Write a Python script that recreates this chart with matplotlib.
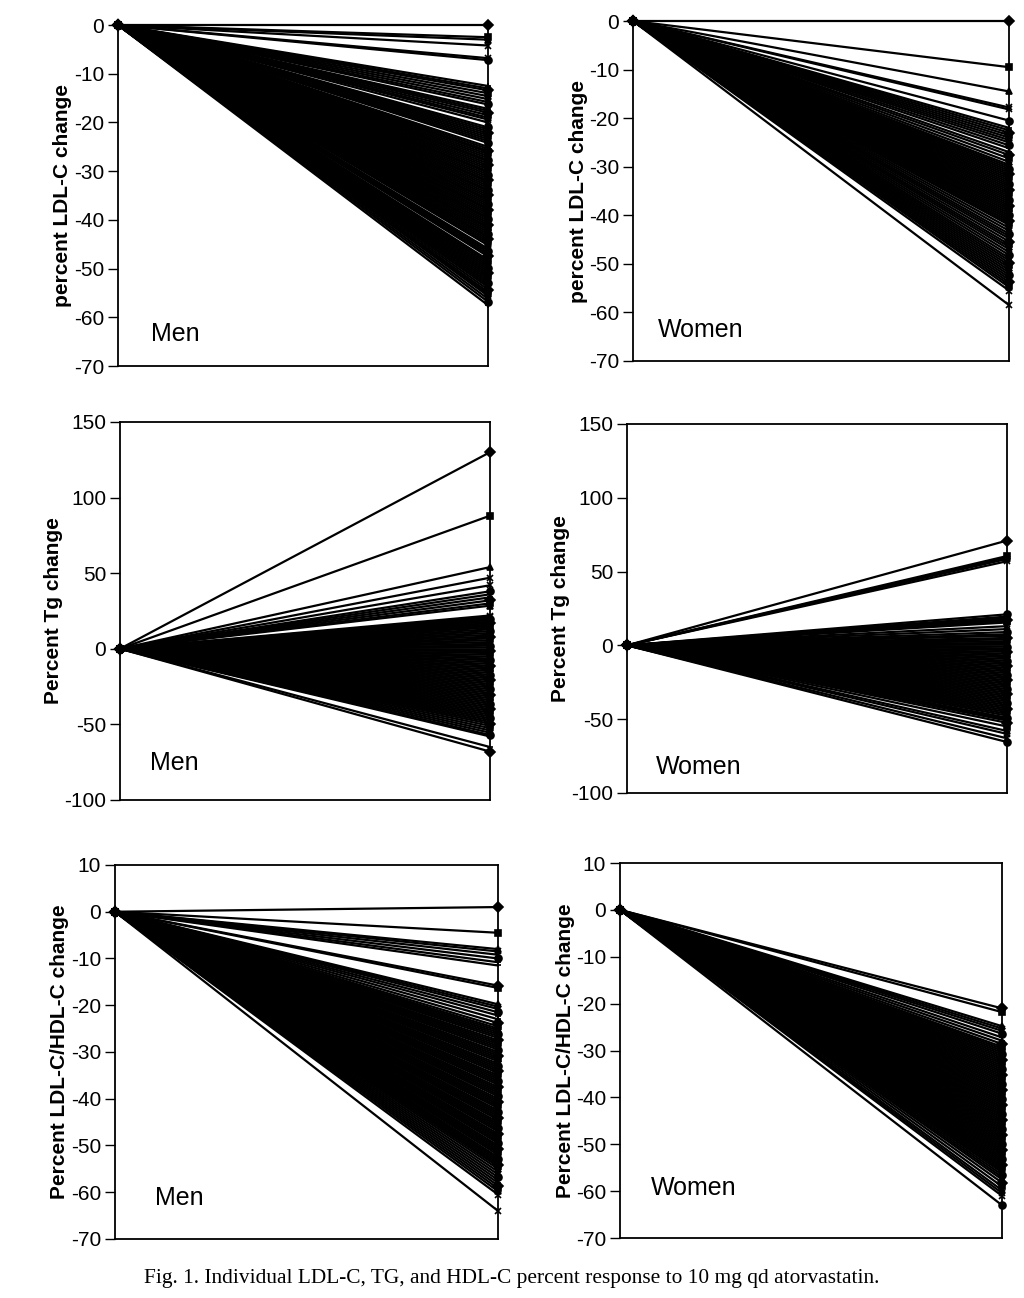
import matplotlib
matplotlib.use("Agg")
import matplotlib.pyplot as plt

plt.rcParams['font.family'] = ['Liberation Sans', 'DejaVu Sans']
plt.rcParams['axes.unicode_minus'] = False

# two visits: baseline and on treatment
visits = [0, 1]

# end-of-treatment percent change per patient (baseline is 0 for everyone)
men_ldl = [0, -2.5, -3.0, -4.2, -6.8, -7.2,
           -12.5, -13.0, -13.4, -14.0, -14.6, -15.2, -15.8, -16.3,
           -17.2, -17.6, -18.0, -18.5, -19.0, -19.4, -20.0,
           -21.0, -21.4, -21.8, -22.2, -22.6, -23.0, -23.4, -23.8, -24.2,
           -25.0, -25.4, -25.8, -26.1, -26.5, -26.9, -27.3, -27.7, -28.0, -28.4,
           -28.8, -29.2, -29.6, -30.0, -30.3, -30.7, -31.1, -31.5, -31.9, -32.2,
           -32.6, -33.0, -33.4, -33.8, -34.1, -34.5, -34.9, -35.3, -35.7, -36.0,
           -36.4, -36.8, -37.2, -37.6, -37.9, -38.3, -38.7, -39.1, -39.5, -39.8,
           -40.2, -40.6, -41.0, -41.4, -41.7, -42.1, -42.5, -42.9, -43.3, -43.6,
           -44.0, -44.4, -44.8, -45.2, -45.9, -46.3, -46.7, -47.1, -47.5, -48.2,
           -48.6, -49.0, -49.4, -49.8, -50.2, -50.6, -51.0, -51.4, -51.8, -52.2,
           -52.6, -53.0, -53.4, -53.8, -54.3, -54.8, -55.2, -55.6, -56.2, -56.8, -57.5]

women_ldl = [0, -9.5, -14.5, -17.8, -18.2, -20.5,
             -22.0, -22.5, -23.0, -23.5, -24.0, -24.5, -25.0, -25.6, -26.2,
             -27.0, -27.6, -28.3, -29.0, -29.6,
             -30.0, -30.4, -30.8, -31.2, -31.6, -32.0, -32.4, -32.8, -33.2, -33.6,
             -34.0, -34.4, -34.8, -35.2, -35.6, -36.0, -36.4, -36.8, -37.2, -37.6,
             -38.0, -38.4, -38.8, -39.2, -39.6, -40.0, -40.4, -40.8, -41.2, -41.6,
             -42.0, -42.6, -43.2, -43.8, -44.3, -44.8, -45.4, -46.0, -46.5, -47.0,
             -47.6, -48.2, -48.8, -49.3, -49.8, -50.3, -50.8, -51.3, -51.8, -52.3,
             -52.8, -53.3, -53.8, -54.3, -54.8, -55.5, -58.5]

men_tg = [130, 88, 54, 47, 42, 38, 36, 34, 32, 30, 28.5,
          22, 21, 20, 19, 18, 17, 16, 15, 14, 12.8, 11.6, 10.4, 9.2, 8, 6.8,
          5.6, 4.4, 3.2, 2, 0.8, -0.4, -1.6, -2.8, -4, -5.2, -6.4, -7.6, -8.8,
          -10, -11.2, -12.4, -13.6, -14.8, -16, -17.2, -18.4, -19.6, -20.8, -22,
          -23.2, -24.4, -25.6, -26.8, -28, -29.2, -30.4, -31.6, -32.8, -34,
          -35.2, -36.4, -37.6, -38.8, -40, -41.2, -42.4, -43.6, -44.8, -46,
          -47.2, -48.4, -49.6, -51, -52.5, -54, -55.5, -57, -58, -65, -68]

women_tg = [71, 60.5, 59.5, 58.5, 57,
            21, 19.5, 18.5, 17.5, 16.5, 15.5, 13, 11, 9, 7.5, 6.5,
            5, 4, 2.8, 1.6, 0.4, -0.8, -2, -3.2, -4.4, -5.6, -6.8, -8, -9.2,
            -10.4, -11.6, -12.8, -14, -15.2, -16.4, -17.6, -18.8, -20, -21.2,
            -22.4, -23.6, -24.8, -26, -27.2, -28.4, -29.6, -30.8, -32, -33.2,
            -34.4, -35.6, -36.8, -38, -39.2, -40.4, -41.6, -42.8, -44, -45.2,
            -46.4, -47.6, -49, -50, -51, -52.5, -55, -58, -60, -63, -65.5]

men_ratio = [1, -4.5, -8.0, -8.5, -9.2, -10.0, -10.8, -11.5, -15.8, -16.3,
             -19.8, -20.3, -20.8, -21.5, -22.2, -23.0, -23.8, -24.5,
             -25.0, -25.4, -25.8, -26.2, -26.6, -27.0, -27.5, -27.9, -28.3, -28.7,
             -29.1, -29.5, -30.0, -30.4, -30.8, -31.2, -31.6, -32.0, -32.5, -32.9,
             -33.3, -33.7, -34.1, -34.5, -35.0, -35.4, -35.8, -36.2, -36.6, -37.0,
             -37.5, -37.9, -38.3, -38.7, -39.1, -39.5, -40.0, -40.4, -40.8, -41.2,
             -41.6, -42.0, -42.5, -42.9, -43.3, -43.7, -44.1, -44.5, -45.0, -45.4,
             -45.8, -46.2, -46.6, -47.0, -47.5, -47.9, -48.3, -48.7, -49.1, -49.5,
             -50.0, -50.4, -50.8, -51.2, -51.6, -52.0, -52.5, -52.9, -53.3, -53.7,
             -54.1, -54.5, -55.0, -55.6, -56.2, -56.8, -57.4, -58.0, -58.6, -59.2,
             -59.8, -60.5, -64]

women_ratio = [-21, -21.8, -24.8, -25.3, -25.8, -26.4, -27.2, -27.9, -28.6,
               -29.2, -29.6, -30.0, -30.4, -30.8, -31.2, -31.6, -32.0, -32.4, -32.8,
               -33.2, -33.6, -34.0, -34.4, -34.8, -35.2, -35.6, -36.0, -36.4, -36.8,
               -37.2, -37.6, -38.0, -38.4, -38.8, -39.2, -39.6, -40.0, -40.4, -40.8,
               -41.2, -41.6, -42.0, -42.4, -42.8, -43.2, -43.6, -44.0, -44.4, -44.8,
               -45.2, -45.6, -46.0, -46.4, -46.8, -47.2, -47.6, -48.0, -48.4, -48.8,
               -49.2, -49.6, -50.0, -50.4, -50.8, -51.2, -51.6, -52.0, -52.4, -52.8,
               -53.2, -53.6, -54.0, -54.4, -54.8, -55.2, -55.6, -56.0, -56.5, -57.0,
               -57.5, -58.2, -59.0, -59.8, -60.4, -61.0, -63]

ldl_label = 'percent LDL-C change'
tg_label = 'Percent Tg change'
ratio_label = 'Percent LDL-C/HDL-C change'

markers = ['D', 's', '^', 'x', 'x', 'o', '+', '_']

fig = plt.figure(figsize=(10.24, 12.98), dpi=100)


def draw_panel(rect, values, ylim, yticks, ylabel, group, gpos):
    ax = fig.add_axes(rect)
    for i, v in enumerate(values):
        ax.plot(visits, [0, v], color='black', lw=1.6,
                marker=markers[i % len(markers)], ms=5, mew=1.2,
                mfc='black', clip_on=False, zorder=3)
    ax.set_xlim(0, 1)
    ax.set_ylim(*ylim)
    ax.set_yticks(yticks)
    ax.set_xticks([])
    ax.tick_params(axis='y', direction='out', length=7, width=1,
                   labelsize=15, pad=3)
    for s in ax.spines.values():
        s.set_linewidth(1.3)
    ax.set_ylabel(ylabel, fontsize=15, fontweight='bold', labelpad=1)
    ax.text(gpos[0], gpos[1], group, transform=ax.transAxes,
            fontsize=18, va='center', ha='left')
    return ax


draw_panel([0.1152, 0.718, 0.3613, 0.2627], men_ldl, (-70, 0),
           range(-70, 1, 10), ldl_label, 'Men', (0.09, 0.095))
draw_panel([0.6182, 0.7219, 0.3672, 0.2619], women_ldl, (-70, 0),
           range(-70, 1, 10), ldl_label, 'Women', (0.066, 0.09))
draw_panel([0.1172, 0.3837, 0.3613, 0.2912], men_tg, (-100, 150),
           range(-100, 151, 50), tg_label, 'Men', (0.08, 0.098))
draw_panel([0.6123, 0.3891, 0.3711, 0.2843], women_tg, (-100, 150),
           range(-100, 151, 50), tg_label, 'Women', (0.076, 0.07))
draw_panel([0.1123, 0.0455, 0.374, 0.2881], men_ratio, (-70, 10),
           range(-70, 11, 10), ratio_label, 'Men', (0.104, 0.11))
draw_panel([0.6055, 0.0462, 0.373, 0.2889], women_ratio, (-70, 10),
           range(-70, 11, 10), ratio_label, 'Women', (0.08, 0.133))

fig.text(0.5, 1 - 1278 / 1298,
         'Fig. 1. Individual LDL-C, TG, and HDL-C percent response to 10 mg qd atorvastatin.',
         ha='center', va='center', fontsize=15.4, family='Liberation Serif')

fig.savefig('out.png', dpi=100)
